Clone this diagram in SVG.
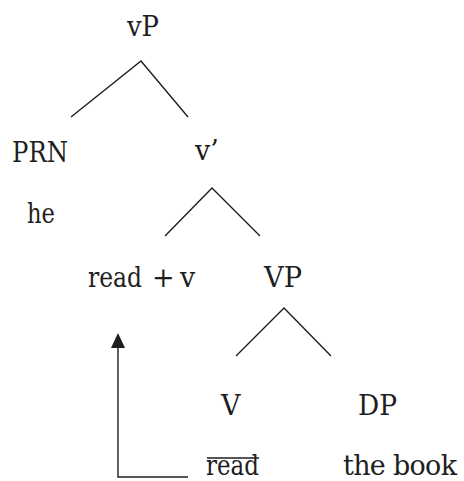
<svg xmlns="http://www.w3.org/2000/svg" width="464" height="481" viewBox="0 0 464 481">
<style>
text{font-family:"DejaVu Serif","Liberation Serif",serif;font-size:27px;fill:#1e1e1e}
.e{stroke:#1e1e1e;stroke-width:1.4;fill:none}
</style>
<rect width="464" height="481" fill="#fff"/>
<g id="vP"><text x="127" y="36" textLength="32" lengthAdjust="spacingAndGlyphs">vP</text></g>
<g id="PRN"><text x="12" y="162" textLength="56" lengthAdjust="spacingAndGlyphs">PRN</text></g>
<g id="v1"><text x="195" y="160">v’</text></g>
<g id="he"><text x="27" y="223" textLength="28" lengthAdjust="spacingAndGlyphs">he</text></g>
<g id="readv"><text x="88" y="287" textLength="54" lengthAdjust="spacingAndGlyphs">read</text><text x="152" y="287">+</text><text x="180" y="287">v</text></g>
<g id="VP"><text x="264" y="287" textLength="38" lengthAdjust="spacingAndGlyphs">VP</text></g>
<g id="V"><text x="221" y="415">V</text></g>
<g id="DP"><text x="358" y="415" textLength="39" lengthAdjust="spacingAndGlyphs">DP</text></g>
<g id="read2"><text x="206" y="475" textLength="53" lengthAdjust="spacingAndGlyphs">read</text><line class="e" x1="207" y1="458" x2="259" y2="458"/></g>
<g id="thebook"><text x="343" y="475" textLength="114">the book</text></g>
<g id="connectors">
<polyline class="e" points="71,117 141,61 188,117"/>
<polyline class="e" points="165,236 212,188 260,236"/>
<polyline class="e" points="236,356 284,308 331,356"/>
<polyline class="e" points="188,477 118,477 118,336"/>
<path d="M118,333 L125,348 L111,348 Z" fill="#1e1e1e"/>
</g>
</svg>
